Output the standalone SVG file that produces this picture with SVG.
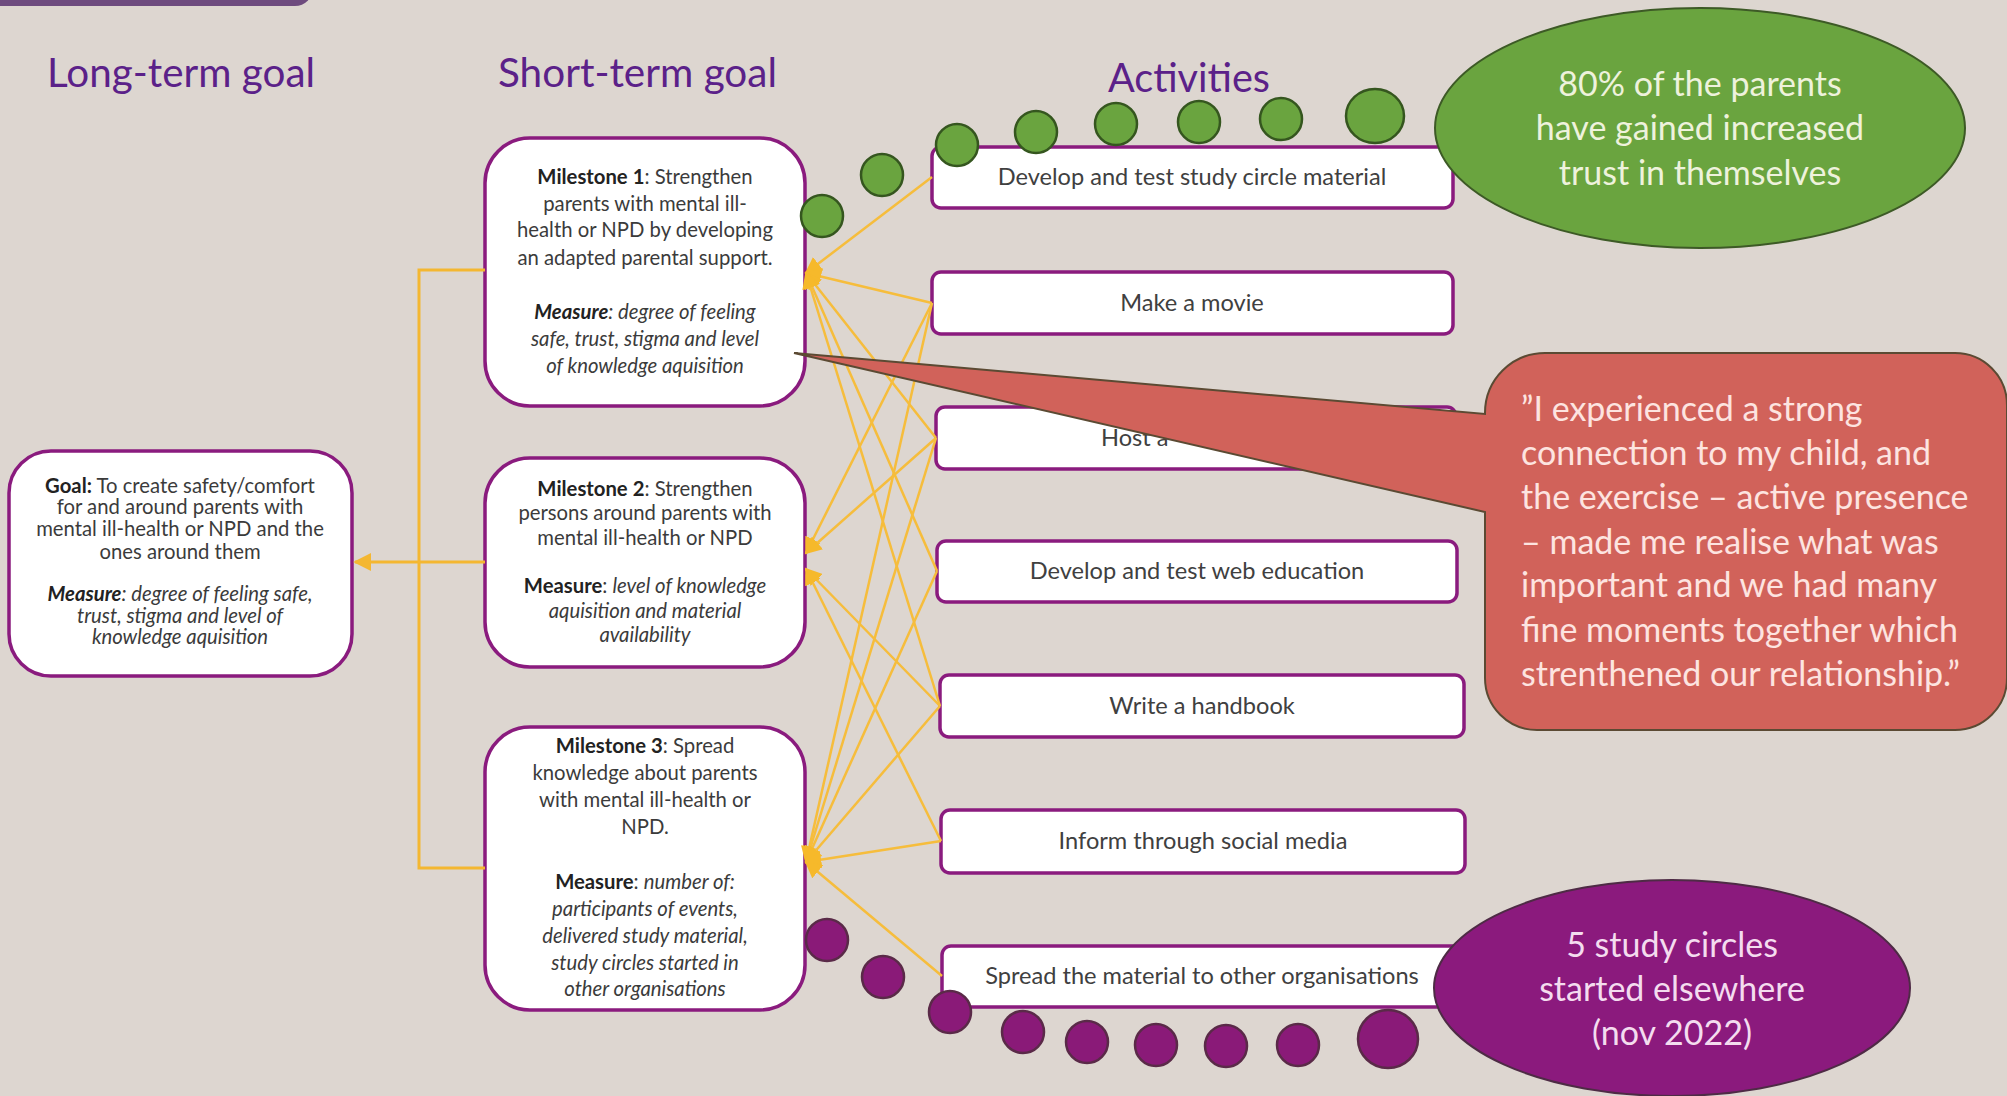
<svg xmlns="http://www.w3.org/2000/svg" width="2007" height="1096" viewBox="0 0 2007 1096">
<defs>
<style>
.hd{font-family:Lato,"Open Sans","Liberation Sans",sans-serif;font-size:40px;fill:#5b2189}
.box{fill:#fff;stroke:#8a1b7e;stroke-width:3.5}
.t{font-family:Lato,"Liberation Sans",sans-serif;font-size:20.3px;fill:#3b3b3b;text-anchor:middle}
.at{font-family:Lato,"Liberation Sans",sans-serif;font-size:23.6px;fill:#404040;text-anchor:middle}
.b{font-weight:bold;fill:#222}
.i{font-style:italic}
.con{stroke:#f4b731;stroke-width:3;fill:none}
.ln{stroke:#f6bd3c;stroke-width:2.5;fill:none;marker-end:url(#ah)}
.gd{fill:#6aa43f;stroke:#35561f;stroke-width:2.5}
.pd{fill:#8a1a78;stroke:#5a2a48;stroke-width:2.5}
.big{font-family:Lato,"Liberation Sans",sans-serif;font-size:34px;text-anchor:middle}
.q{font-family:Lato,"Liberation Sans",sans-serif;font-size:34px;fill:#fde4e0}
</style>
<marker id="ah" viewBox="0 0 10 10" refX="9" refY="5" markerWidth="17" markerHeight="17" markerUnits="userSpaceOnUse" orient="auto"><path d="M0,0 L10,5 L0,10 z" fill="#f6b92b"/></marker>
<marker id="ah2" viewBox="0 0 10 10" refX="9" refY="5" markerWidth="18" markerHeight="18" markerUnits="userSpaceOnUse" orient="auto"><path d="M0,0 L10,5 L0,10 z" fill="#f4b731"/></marker>
</defs>
<rect x="0" y="0" width="2007" height="1096" fill="#ddd6d0"/>
<rect x="-30" y="-30" width="343" height="36" rx="18" fill="#6e4b7e"/>
<g id="headings">
<text class="hd" x="47" y="87" textLength="268" lengthAdjust="spacingAndGlyphs">Long-term goal</text>
<text class="hd" x="498" y="87" textLength="279" lengthAdjust="spacingAndGlyphs">Short-term goal</text>
<text class="hd" x="1108" y="92" textLength="162" lengthAdjust="spacingAndGlyphs">Activities</text>
</g>
<g id="goal">
<rect x="9" y="451" width="343" height="225" rx="42" class="box"/>
<text class="t" x="180" y="493"><tspan class="b">Goal:</tspan> To create safety/comfort</text>
<text class="t" x="180" y="514">for and around parents with</text>
<text class="t" x="180" y="536">mental ill-health or NPD and the</text>
<text class="t" x="180" y="559">ones around them</text>
<text class="t i" x="180" y="601"><tspan class="b">Measure</tspan>: degree of feeling safe,</text>
<text class="t i" x="180" y="623">trust, stigma and level of</text>
<text class="t i" x="180" y="644">knowledge aquisition</text>
</g>
<g id="milestone1">
<rect x="485" y="138" width="320" height="268" rx="45" class="box"/>
<text class="t" x="645" y="184"><tspan class="b">Milestone 1</tspan>: Strengthen</text>
<text class="t" x="645" y="211">parents with mental ill-</text>
<text class="t" x="645" y="237">health or NPD by developing</text>
<text class="t" x="645" y="265">an adapted parental support.</text>
<text class="t i" x="645" y="319"><tspan class="b">Measure</tspan>: degree of feeling</text>
<text class="t i" x="645" y="346">safe, trust, stigma and level</text>
<text class="t i" x="645" y="373">of knowledge aquisition</text>
</g>
<g id="milestone2">
<rect x="485" y="458" width="320" height="209" rx="45" class="box"/>
<text class="t" x="645" y="496"><tspan class="b">Milestone 2</tspan>: Strengthen</text>
<text class="t" x="645" y="520">persons around parents with</text>
<text class="t" x="645" y="545">mental ill-health or NPD</text>
<text class="t" x="645" y="593"><tspan class="b">Measure</tspan>: <tspan class="i">level of knowledge</tspan></text>
<text class="t i" x="645" y="618">aquisition and material</text>
<text class="t i" x="645" y="642">availability</text>
</g>
<g id="milestone3">
<rect x="485" y="727" width="320" height="283" rx="45" class="box"/>
<text class="t" x="645" y="753"><tspan class="b">Milestone 3</tspan>: Spread</text>
<text class="t" x="645" y="780">knowledge about parents</text>
<text class="t" x="645" y="807">with mental ill-health or</text>
<text class="t" x="645" y="834">NPD.</text>
<text class="t" x="645" y="889"><tspan class="b">Measure</tspan>: <tspan class="i">number of:</tspan></text>
<text class="t i" x="645" y="916">participants of events,</text>
<text class="t i" x="645" y="943">delivered study material,</text>
<text class="t i" x="645" y="970">study circles started in</text>
<text class="t i" x="645" y="996">other organisations</text>
</g>
<g id="act1"><rect x="932" y="147" width="521" height="61" rx="9" class="box"/><text class="at" x="1192" y="185">Develop and test study circle material</text></g>
<g id="act2"><rect x="932" y="272" width="521" height="62" rx="9" class="box"/><text class="at" x="1192" y="311">Make a movie</text></g>
<g id="act3"><rect x="936" y="407" width="520" height="62" rx="9" class="box"/><text class="at" x="1101" y="446" style="text-anchor:start">Host a</text></g>
<g id="act4"><rect x="937" y="541" width="520" height="61" rx="9" class="box"/><text class="at" x="1197" y="579">Develop and test web education</text></g>
<g id="act5"><rect x="940" y="675" width="524" height="62" rx="9" class="box"/><text class="at" x="1202" y="714">Write a handbook</text></g>
<g id="act6"><rect x="941" y="810" width="524" height="63" rx="9" class="box"/><text class="at" x="1203" y="849">Inform through social media</text></g>
<g id="act7"><rect x="942" y="946" width="528" height="61" rx="9" class="box"/><text class="at" x="1202" y="984">Spread the material to other organisations</text></g>
<g id="connectors">
<path class="con" d="M485,270 H419 V868 H485"/>
<path class="con" d="M485,562 H355" marker-end="url(#ah2)"/>
<line class="ln" x1="932" y1="177" x2="806" y2="273"/>
<line class="ln" x1="932" y1="303" x2="806" y2="273"/>
<line class="ln" x1="936" y1="438" x2="806" y2="273"/>
<line class="ln" x1="937" y1="571" x2="806" y2="273"/>
<line class="ln" x1="940" y1="706" x2="806" y2="273"/>
<line class="ln" x1="932" y1="303" x2="806" y2="553"/>
<line class="ln" x1="936" y1="438" x2="806" y2="553"/>
<line class="ln" x1="940" y1="706" x2="806" y2="569"/>
<line class="ln" x1="941" y1="841" x2="806" y2="569"/>
<line class="ln" x1="932" y1="303" x2="806" y2="862"/>
<line class="ln" x1="936" y1="438" x2="806" y2="862"/>
<line class="ln" x1="937" y1="571" x2="806" y2="862"/>
<line class="ln" x1="940" y1="706" x2="806" y2="862"/>
<line class="ln" x1="941" y1="841" x2="806" y2="862"/>
<line class="ln" x1="942" y1="976" x2="806" y2="862"/>
</g>
<g id="green-dots">
<circle class="gd" cx="822" cy="216" r="21"/>
<circle class="gd" cx="882" cy="175" r="21"/>
<circle class="gd" cx="957" cy="145" r="21"/>
<circle class="gd" cx="1036" cy="132" r="21"/>
<circle class="gd" cx="1116" cy="124" r="21"/>
<circle class="gd" cx="1199" cy="122" r="21"/>
<circle class="gd" cx="1281" cy="119" r="21"/>
<ellipse class="gd" cx="1375" cy="116" rx="29" ry="27"/>
</g>
<g id="result-trust">
<ellipse cx="1700" cy="128" rx="265" ry="120" fill="#6aa43f" stroke="#3d5a26" stroke-width="2"/>
<text class="big" x="1700" y="96" fill="#eef2dc">80% of the parents</text>
<text class="big" x="1700" y="140" fill="#eef2dc">have gained increased</text>
<text class="big" x="1700" y="185" fill="#eef2dc">trust in themselves</text>
</g>
<g id="purple-dots">
<circle class="pd" cx="827" cy="940" r="21"/>
<circle class="pd" cx="883" cy="977" r="21"/>
<circle class="pd" cx="950" cy="1012" r="21"/>
<circle class="pd" cx="1023" cy="1032" r="21"/>
<circle class="pd" cx="1087" cy="1042" r="21"/>
<circle class="pd" cx="1156" cy="1045" r="21"/>
<circle class="pd" cx="1226" cy="1046" r="21"/>
<circle class="pd" cx="1298" cy="1045" r="21"/>
<ellipse class="pd" cx="1388" cy="1039" rx="30" ry="29"/>
</g>
<g id="result-circles">
<ellipse cx="1672" cy="988" rx="238" ry="108" fill="#8b1a7d" stroke="#4e2b45" stroke-width="2"/>
<text class="big" x="1672" y="957" fill="#f4dcef">5 study circles</text>
<text class="big" x="1672" y="1001" fill="#f4dcef">started elsewhere</text>
<text class="big" x="1672" y="1045" fill="#f4dcef">(nov 2022)</text>
</g>
<g id="quote">
<path d="M1545,353 H1955 A52,52 0 0 1 2007,405 V678 A52,52 0 0 1 1955,730 H1537 A52,52 0 0 1 1485,678 V512 L794,353 L1485,414 V413 A60,60 0 0 1 1545,353 Z" fill="#d1625a" stroke="#5b4a33" stroke-width="2"/>
<text class="q" x="1521" y="421">”I experienced a strong</text>
<text class="q" x="1521" y="465">connection to my child, and</text>
<text class="q" x="1521" y="509">the exercise – active presence</text>
<text class="q" x="1521" y="554">– made me realise what was</text>
<text class="q" x="1521" y="597">important and we had many</text>
<text class="q" x="1521" y="642">fine moments together which</text>
<text class="q" x="1521" y="686">strenthened our relationship.”</text>
</g>
</svg>
